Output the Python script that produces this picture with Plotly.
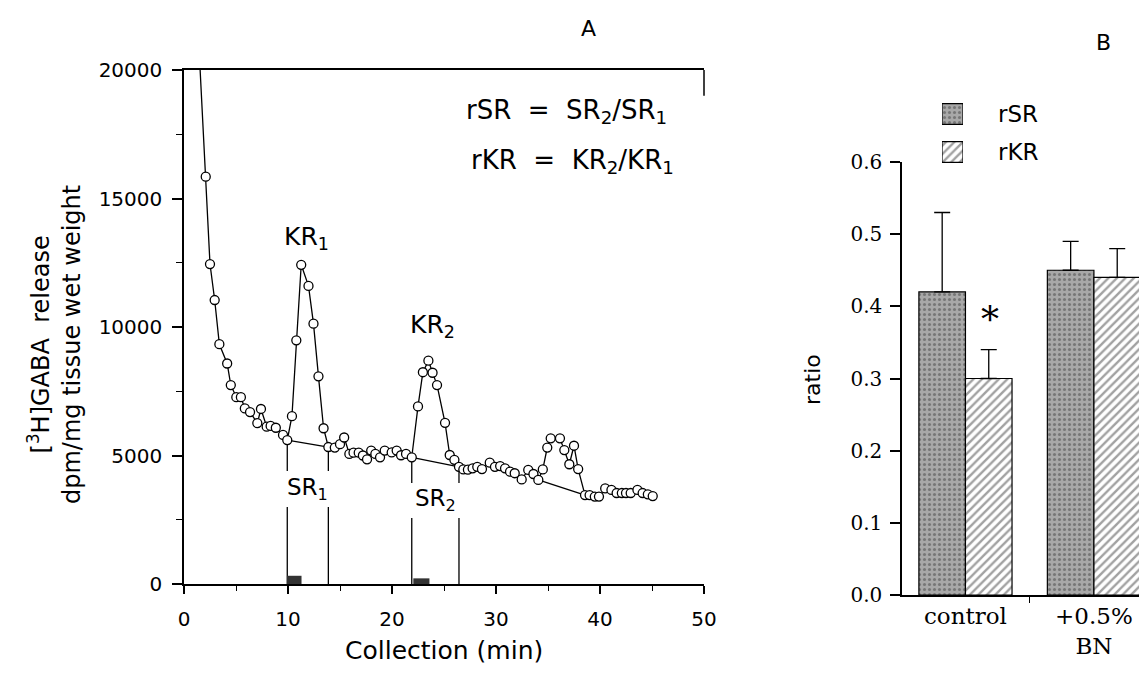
import plotly.graph_objects as go

# panel A: [3H]GABA release per collection time
time_min = [1.4, 2.09, 2.5, 2.95, 3.4, 4.15, 4.5, 5.03, 5.47, 5.85, 6.35, 7.05, 7.4, 7.95,
            8.33, 8.83, 9.52, 9.93, 10.38, 10.8, 11.27, 11.97, 12.45, 12.93, 13.42, 13.88,
            14.5, 15.0, 15.4, 15.9, 16.3, 16.8, 17.2, 17.6, 18.0, 18.4, 18.85, 19.3, 19.97,
            20.45, 20.87, 21.35, 21.9, 22.5, 22.97, 23.5, 23.9, 24.33, 25.1, 25.55, 26.0,
            26.44, 26.86, 27.3, 27.75, 28.2, 28.65, 29.4, 29.9, 30.4, 30.87, 31.35, 31.8,
            32.47, 33.1, 33.6, 34.07, 34.5, 34.93, 35.26, 36.15, 36.57, 37.05, 37.5, 37.9,
            38.56, 39.0, 39.5, 39.9, 40.5, 41.1, 41.6, 42.1, 42.5, 42.95, 43.6, 44.1, 44.6,
            45.07]
release = [21200, 15850, 12450, 11050, 9330, 8580, 7740, 7270, 7270, 6830, 6690, 6260, 6810,
           6120, 6150, 6080, 5800, 5600, 6530, 9480, 12420, 11600, 10130, 8080, 6060, 5330,
           5310, 5440, 5700, 5060, 5110, 5110, 5000, 4850, 5190, 5060, 4930, 5190, 5120,
           5190, 5010, 5060, 4930, 6910, 8240, 8690, 8220, 7740, 6270, 5020, 4830,
           4560, 4460, 4450, 4500, 4560, 4470, 4720, 4560, 4590, 4500, 4370, 4310,
           4070, 4440, 4280, 4050, 4460, 5310, 5670, 5670, 5210, 4660, 5380, 4470,
           3460, 3460, 3400, 3400, 3720, 3660, 3540, 3540, 3540, 3540, 3660, 3540, 3490,
           3420]

# baselines drawn under each release peak (start / end times)
base_start = [9.93, 21.9, 34.07]
base_end = [13.88, 26.44, 38.56]

# SR windows: limits, label and gap for the label
sr_start = [9.93, 21.9]
sr_end = [13.88, 26.44]
sr_gap_top = [4400, 3930]
sr_gap_bottom = [3000, 2570]
sr_labels = ["SR<sub>1</sub>", "SR<sub>2</sub>"]

# K+ stimulation periods (small black bars on the x axis)
stim_start = [9.9, 22.05]
stim_end = [11.3, 23.6]
stim_height = [320, 220]

# panel B: ratios
groups = ["control", "+0.5%<br>BN"]
series = ["rSR", "rKR"]
rsr = [0.42, 0.45]
rsr_err = [0.11, 0.04]
rkr = [0.30, 0.44]
rkr_err = [0.04, 0.04]

SANS = "DejaVu Sans"
SERIF = "DejaVu Serif"
W, H = 1147, 676
PAGE_PAD = 8  # the page body margin moves the figure by this many pixels

# bar looks: (fill, pattern shape, pattern colour, pattern size, solidity)
RSR_LOOK = ("#a8a8a8", ".", "#3a3a3a", 5, 0.3)
RKR_LOOK = ("white", "/", "black", 6, 0.4)


def px(x):
    """screen x pixel -> paper fraction"""
    return (x - PAGE_PAD) / W


def py(y):
    """screen y pixel -> paper fraction"""
    return 1 - (y - PAGE_PAD) / H


def note(text, x, y, size=22, family=SANS, angle=0, ref=("paper", "paper")):
    fig.add_annotation(x=x, y=y, xref=ref[0], yref=ref[1], text=text, textangle=angle,
                       showarrow=False, xanchor="center", yanchor="middle",
                       font=dict(family=family, size=size, color="black"))


def bar_marker(looks):
    return dict(color=[l[0] for l in looks], line=dict(color="black", width=1.2),
                pattern=dict(shape=[l[1] for l in looks], fgcolor=[l[2] for l in looks],
                             bgcolor=[l[0] for l in looks], size=[l[3] for l in looks],
                             solidity=[l[4] for l in looks]))


fig = go.Figure()

# baselines under the peaks
for t0, t1 in zip(base_start, base_end):
    i0, i1 = time_min.index(t0), time_min.index(t1)
    fig.add_trace(go.Scatter(x=[t0, t1], y=[release[i0], release[i1]], mode="lines",
                             line=dict(color="black", width=1.3), showlegend=False,
                             hoverinfo="skip"))

# SR window markers
for k in range(len(sr_start)):
    xs, ys = [], []
    for t in (sr_start[k], sr_end[k]):
        v = release[time_min.index(t)]
        xs += [t, t, None, t, t, None]
        ys += [v, sr_gap_top[k], None, sr_gap_bottom[k], 0, None]
    fig.add_trace(go.Scatter(x=xs, y=ys, mode="lines", line=dict(color="black", width=1.3),
                             showlegend=False, hoverinfo="skip"))
    note(sr_labels[k], (sr_start[k] + sr_end[k]) / 2, (sr_gap_top[k] + sr_gap_bottom[k]) / 2,
         size=23, ref=("x", "y"))

fig.add_trace(go.Scatter(
    x=time_min, y=release, mode="lines+markers",
    line=dict(color="black", width=1.3),
    marker=dict(symbol="circle", size=9, color="white", line=dict(color="black", width=1.3)),
    cliponaxis=True, showlegend=False))

for a, b, h in zip(stim_start, stim_end, stim_height):
    fig.add_shape(type="rect", xref="x", yref="y", x0=a, x1=b, y0=0, y1=h,
                  fillcolor="#333333", line=dict(width=0))

# short right edge of the frame
fig.add_shape(type="line", xref="x domain", yref="y domain", x0=1, x1=1, y0=1, y1=0.95,
              line=dict(color="black", width=1.5))

# panel B bars
for vals, errs, look, name in [(rsr, rsr_err, RSR_LOOK, "rSR"), (rkr, rkr_err, RKR_LOOK, "rKR")]:
    fig.add_trace(go.Bar(
        x=groups, y=vals, name=name, xaxis="x2", yaxis="y2", showlegend=False,
        marker=bar_marker([look] * len(vals)),
        error_y=dict(type="data", symmetric=False, array=errs, arrayminus=[0] * len(errs),
                     color="black", thickness=1.3, width=8)))

# legend key: one patterned box per series on its own small axis
fig.add_trace(go.Bar(
    y=series, x=[1] * len(series), orientation="h", xaxis="x3", yaxis="y3", width=0.55,
    marker=bar_marker([RSR_LOOK, RKR_LOOK]), showlegend=False, hoverinfo="skip"))
for s, yy in zip(series, [py(114), py(152)]):
    note(s, px(1018), yy, size=23)

note("KR<sub>1</sub>", 11.8, 13460, size=25, ref=("x", "y"))
note("KR<sub>2</sub>", 23.85, 10040, size=25, ref=("x", "y"))
note("rSR\u00a0\u00a0=\u00a0\u00a0SR<sub>2</sub>/SR<sub>1</sub>", 36.8, 18380, size=26, ref=("x", "y"))
note("rKR\u00a0\u00a0=\u00a0\u00a0KR<sub>2</sub>/KR<sub>1</sub>", 37.35, 16430, size=26, ref=("x", "y"))

# significance mark
note("*", 0.19, rkr[0] + rkr_err[0] + 0.042, size=36, family=SERIF, ref=("x2", "y2"))

# axis titles and panel letters
note("[<sup>3</sup>H]GABA\u00a0\u00a0release<br>dpm/mg tissue wet weight", px(55), py(345),
     size=24, angle=-90)
note("Collection (min)", px(444), py(650), size=25)
note("ratio", px(812), py(380), size=22, angle=-90)
note("A", px(588), py(28), size=22)
note("B", px(1103), py(42), size=22)

tick_a = dict(family=SANS, size=20, color="black")
tick_b = dict(family=SERIF, size=20, color="black")

fig.update_layout(
    width=W, height=H,
    margin=dict(l=0, r=0, t=0, b=0, autoexpand=False),
    paper_bgcolor="white", plot_bgcolor="white",
    barmode="group", bargap=0.275, bargroupgap=0, showlegend=False,
    xaxis=dict(domain=[px(184), px(704)], range=[0, 50], tickvals=[0, 10, 20, 30, 40, 50],
               ticks="outside", ticklen=8, tickwidth=1.5, tickcolor="black",
               minor=dict(dtick=5, ticks="outside", ticklen=5, tickwidth=1.2, tickcolor="black"),
               showline=True, linecolor="black", linewidth=1.5, mirror=True, automargin=False,
               showgrid=False, zeroline=False, tickfont=tick_a, ticklabelstandoff=8),
    yaxis=dict(domain=[py(584), py(70)], range=[0, 20000], dtick=5000, tickformat="d",
               ticks="outside", ticklen=10, tickwidth=1.5, tickcolor="black",
               minor=dict(dtick=2500, ticks="outside", ticklen=6, tickwidth=1.2, tickcolor="black"),
               showline=True, linecolor="black", linewidth=1.5, automargin=False,
               showgrid=False, zeroline=False, tickfont=tick_a, ticklabelstandoff=6),
    xaxis2=dict(domain=[px(902), 1.0], range=[-0.494, 1.413 + PAGE_PAD / 128.3], anchor="y2",
                tickson="boundaries", ticks="outside", ticklen=6, tickwidth=1.3, tickcolor="black",
                showline=True, linecolor="black", linewidth=1.5, automargin=False,
                showgrid=False, zeroline=False, tickfont=dict(family=SERIF, size=23, color="black")),
    yaxis2=dict(domain=[py(595), py(162)], range=[0, 0.6], dtick=0.1, tickformat=".1f",
                anchor="x2", ticks="outside", ticklen=10, tickwidth=1.5, tickcolor="black",
                showline=True, linecolor="black", linewidth=1.5, automargin=False,
                showgrid=False, zeroline=False, tickfont=tick_b, ticklabelstandoff=4),
    xaxis3=dict(domain=[px(942), px(963)], range=[0, 1], visible=False, anchor="y3",
                automargin=False),
    yaxis3=dict(domain=[py(171), py(95)], range=[1.5, -0.5], visible=False, anchor="x3",
                automargin=False),
)

fig.write_html("out.html")
